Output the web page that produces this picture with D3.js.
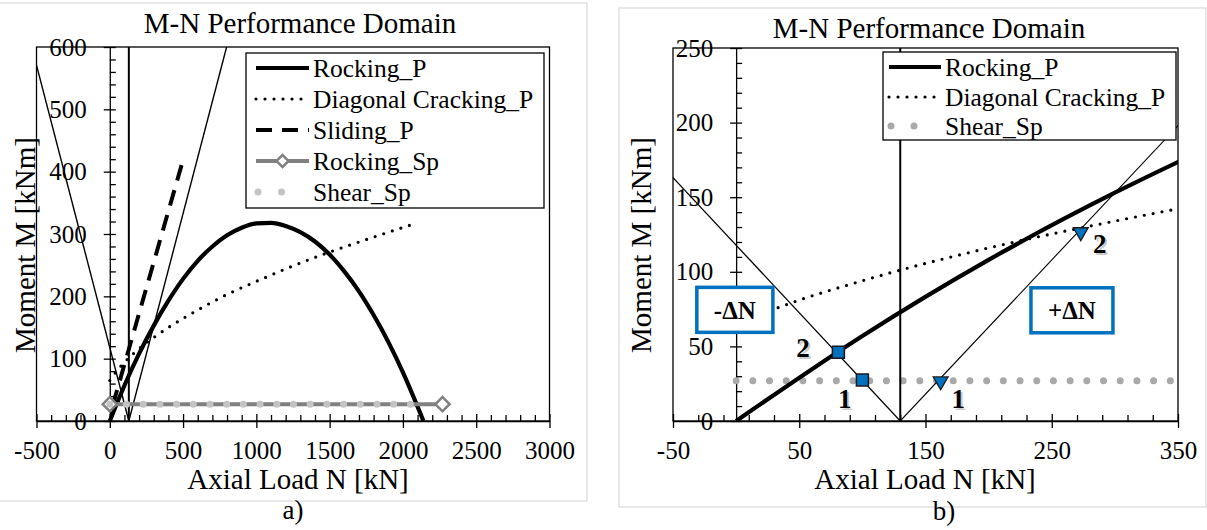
<!DOCTYPE html>
<html>
<head>
<meta charset="utf-8">
<script src="https://cdn.jsdelivr.net/npm/d3@7"></script>
<style>
body { margin: 0; background: #fff; }
svg text { font-family: "Liberation Serif", "Times New Roman", serif; fill: #000; }
</style>
</head>
<body>
<svg width="1207" height="530"></svg>
<script>
'use strict';

var svg = d3.select('svg');

// Rocking_P
var rockingN = [0, 100, 200, 300, 400, 500, 600, 700, 800, 900, 1000, 1100, 1200, 1300, 1400, 1500, 1600, 1700, 1800, 1900, 2000, 2100, 2140];
var rockingM = [0, 57, 108, 153, 193, 228, 257, 280, 298, 310, 317, 318, 313, 303, 288, 267, 240, 208, 170, 127, 78, 23, 0];

// Diagonal Cracking_P
var diagN = [0, 50, 100, 200, 300, 400, 600, 800, 1000, 1200, 1500, 1800, 2100];
var diagM = [65, 81, 94, 116, 134, 150, 178, 203, 224, 244, 271, 295, 318];

// Sliding_P
var slidingN = [20, 500];
var slidingM = [25, 419];

// thin construction lines
var descN = [-500, 130], descM = [571, 0];
var ascN = [130, 797], ascM = [0, 600];
var vertN = [130, 130], vertM = [0, 600];

// Rocking_Sp / Shear_Sp
var rockSpN = [0, 2270], rockSpM = [27, 27];
var shearN = [0, 2160], shearM = [27, 27];

// panel b markers and notes
var squareN = [81, 100], squareM = [46, 27.5];
var triN = [162, 273], triM = [28, 128];
var pointLabels = ['2', '1', '1', '2'];
var pointLabelN = [53, 86, 176, 288];
var pointLabelM = [49, 15, 15, 119];
var deltaLabels = ['-\u0394N', '+\u0394N'];
var deltaN = [-1, 266];
var deltaM = [74.5, 74.2];

// ticks
var xTicksA = [-500, 0, 500, 1000, 1500, 2000, 2500, 3000];
var yTicksA = [0, 100, 200, 300, 400, 500, 600];
var xTicksB = [-50, 50, 150, 250, 350];
var yTicksB = [0, 50, 100, 150, 200, 250];

var legendA = ['Rocking_P', 'Diagonal Cracking_P', 'Sliding_P', 'Rocking_Sp', 'Shear_Sp'];
var legendB = ['Rocking_P', 'Diagonal Cracking_P', 'Shear_Sp'];

var blue = '#0070c0';

function pts(ns, ms) {
  return ns.map(function (n, i) { return [n, ms[i]]; });
}

function plain(d) {
  return String(d);
}

var styles = {
  'Rocking_P': { stroke: '#000', width: 4.2 },
  'Diagonal Cracking_P': { stroke: '#000', width: 3.2, dash: '0 9', cap: 'round' },
  'Sliding_P': { stroke: '#000', width: 4, dash: '16 10' },
  'Rocking_Sp': { stroke: '#808080', width: 4 },
  'Shear_Sp': { stroke: '#c3c3c3', width: 7, dash: '0 16.7', cap: 'round' },
  'thin': { stroke: '#000', width: 1.4 },
  'vert': { stroke: '#000', width: 2 }
};

function applyStyle(sel, st) {
  sel.attr('fill', 'none').attr('stroke', st.stroke).attr('stroke-width', st.width)
    .attr('stroke-dasharray', st.dash || null).attr('stroke-linecap', st.cap || 'butt');
  return sel;
}

function makePanel(o) {
  var x = d3.scaleLinear().domain(o.xDomain).range([o.left, o.right]);
  var y = d3.scaleLinear().domain(o.yDomain).range([o.bottom, o.top]);
  var g = svg.append('g').attr('class', 'panel-' + o.id);

  g.append('rect')
    .attr('x', o.frame[0]).attr('y', o.frame[1])
    .attr('width', o.frame[2] - o.frame[0]).attr('height', o.frame[3] - o.frame[1])
    .attr('fill', 'none').attr('stroke', '#d9d9d9').attr('stroke-width', 1.2);

  g.append('clipPath').attr('id', 'clip-' + o.id).append('rect')
    .attr('x', o.left).attr('y', o.top)
    .attr('width', o.right - o.left).attr('height', o.bottom - o.top);

  g.append('rect')
    .attr('x', o.left).attr('y', o.top)
    .attr('width', o.right - o.left).attr('height', o.bottom - o.top)
    .attr('fill', 'none').attr('stroke', '#000').attr('stroke-width', 1.3);

  // minor ticks, pointing into the plot
  var xMinor = d3.range(o.xDomain[0], o.xDomain[1] + 1, o.xMinorStep).filter(function (v) {
    return o.xTicks.indexOf(v) < 0;
  });
  var yMinor = d3.range(o.yDomain[0], o.yDomain[1] + 1, o.yMinorStep).filter(function (v) {
    return o.yTicks.indexOf(v) < 0;
  });
  var xm = g.append('g').attr('transform', 'translate(0,' + y(0) + ')')
    .call(d3.axisTop(x).tickValues(xMinor).tickSize(6).tickFormat(''));
  xm.select('.domain').remove();
  var ym = g.append('g').attr('transform', 'translate(' + x(0) + ',0)')
    .call(d3.axisRight(y).tickValues(yMinor).tickSize(6).tickFormat(''));
  ym.select('.domain').remove();

  // major ticks cross the axis
  var xa = g.append('g').attr('transform', 'translate(0,' + y(0) + ')')
    .call(d3.axisBottom(x).tickValues(o.xTicks).tickFormat(plain)
      .tickSizeInner(7).tickSizeOuter(0).tickPadding(13));
  xa.selectAll('.tick line').attr('y1', -7);
  var ya = g.append('g').attr('transform', 'translate(' + x(0) + ',0)')
    .call(d3.axisLeft(y).tickValues(o.yTicks).tickFormat(plain)
      .tickSizeInner(6).tickSizeOuter(0).tickPadding(17));
  ya.selectAll('.tick line').attr('x1', 6);

  [xa, ya, xm, ym].forEach(function (a) {
    a.attr('font-size', 25).attr('font-family', null);
    a.selectAll('line, path').attr('stroke', '#000').attr('stroke-width', 1.3);
  });

  g.append('text').attr('x', o.title[0]).attr('y', o.title[1])
    .attr('text-anchor', 'middle').attr('font-size', 29).text('M-N Performance Domain');
  g.append('text').attr('x', o.xTitle[0]).attr('y', o.xTitle[1])
    .attr('text-anchor', 'middle').attr('font-size', 29).text('Axial Load N [kN]');
  g.append('text').attr('transform', 'translate(' + o.yTitle[0] + ',' + o.yTitle[1] + ') rotate(-90)')
    .attr('dy', '0.35em').attr('text-anchor', 'middle').attr('font-size', 29).text('Moment M [kNm]');
  g.append('text').attr('x', o.caption[0]).attr('y', o.caption[1])
    .attr('text-anchor', 'middle').attr('font-size', 27).text(o.label);

  var plot = g.append('g').attr('clip-path', 'url(#clip-' + o.id + ')');
  var line = d3.line().x(function (d) { return x(d[0]); }).y(function (d) { return y(d[1]); });
  var curve = d3.line().x(function (d) { return x(d[0]); }).y(function (d) { return y(d[1]); })
    .curve(d3.curveMonotoneX);

  return { g: g, plot: plot, x: x, y: y, line: line, curve: curve };
}

function drawLegend(g, box, items, rows, sample, shearColor) {
  g.append('rect').attr('x', box[0]).attr('y', box[1]).attr('width', box[2]).attr('height', box[3])
    .attr('fill', '#fff').attr('stroke', '#000').attr('stroke-width', 1.3);
  items.forEach(function (name, i) {
    var ry = rows[i];
    var st = Object.assign({}, styles[name]);
    var x0 = sample[0], x1 = sample[1];
    if (name === 'Shear_Sp') {
      st.stroke = shearColor;
      st.dash = '0 ' + ((x1 - x0 - 6) / 2);
      x0 += 2; x1 = x0 + (x1 - x0 - 6);
    }
    applyStyle(g.append('line').attr('x1', x0).attr('x2', x1).attr('y1', ry).attr('y2', ry), st);
    if (name === 'Rocking_Sp') {
      g.append('path').attr('d', d3.symbol(d3.symbolSquare, 72)())
        .attr('transform', 'translate(' + ((sample[0] + sample[1]) / 2) + ',' + ry + ') rotate(45)')
        .attr('fill', '#fff').attr('stroke', '#808080').attr('stroke-width', 2.5);
    }
    g.append('text').attr('x', sample[1] + 4).attr('y', ry + 9).attr('font-size', 25.5).text(name);
  });
}

// ---------- panel a ----------
var A = makePanel({
  id: 'a', frame: [-2, 3, 587, 501], left: 36.5, right: 549.5, top: 47, bottom: 421,
  xDomain: [-500, 3000], yDomain: [0, 600], xTicks: xTicksA, yTicks: yTicksA,
  xMinorStep: 100, yMinorStep: 20,
  title: [300, 33], xTitle: [298, 489], yTitle: [25, 245], caption: [293, 519], label: 'a)'
});

applyStyle(A.plot.append('path').attr('d', A.line(pts(descN, descM))), styles.thin);
applyStyle(A.plot.append('path').attr('d', A.line(pts(ascN, ascM))), styles.thin);
applyStyle(A.plot.append('path').attr('d', A.line(pts(vertN, vertM))), styles.vert);
applyStyle(A.plot.append('path').attr('d', A.line(pts(slidingN, slidingM))), styles.Sliding_P);
applyStyle(A.plot.append('path').attr('d', A.curve(pts(diagN, diagM))), styles['Diagonal Cracking_P']);
applyStyle(A.plot.append('path').attr('d', A.curve(pts(rockingN, rockingM))), styles.Rocking_P);
applyStyle(A.g.append('path').attr('d', A.line(pts(rockSpN, rockSpM))), styles.Rocking_Sp);
A.g.selectAll('.sp-marker').data(pts(rockSpN, rockSpM)).enter().append('path')
  .attr('class', 'sp-marker')
  .attr('d', d3.symbol(d3.symbolSquare, 100)())
  .attr('transform', function (d) { return 'translate(' + A.x(d[0]) + ',' + A.y(d[1]) + ') rotate(45)'; })
  .attr('fill', '#fff').attr('stroke', '#808080').attr('stroke-width', 2.5);
applyStyle(A.g.append('path').attr('d', A.line(pts(shearN, shearM))), styles.Shear_Sp);

drawLegend(A.g, [246, 53, 298, 155], legendA, [68, 99, 130, 161, 192], [256, 309], '#c3c3c3');

// ---------- panel b ----------
var B = makePanel({
  id: 'b', frame: [619, 8, 1206, 507], left: 673, right: 1178, top: 48, bottom: 421,
  xDomain: [-50, 350], yDomain: [0, 250], xTicks: xTicksB, yTicks: yTicksB,
  xMinorStep: 20, yMinorStep: 10,
  title: [929, 38], xTitle: [925, 489], yTitle: [641, 245], caption: [944, 520], label: 'b)'
});

var shearB = Object.assign({}, styles.Shear_Sp, { stroke: '#a9a9a9' });
applyStyle(B.plot.append('path').attr('d', B.line(pts(shearN, shearM))), shearB);
applyStyle(B.plot.append('path').attr('d', B.line(pts(descN, descM))), { stroke: '#000', width: 1.3 });
applyStyle(B.plot.append('path').attr('d', B.line(pts(ascN, ascM))), { stroke: '#000', width: 1.1 });
applyStyle(B.plot.append('path').attr('d', B.line(pts(vertN, vertM))), styles.vert);
applyStyle(B.plot.append('path').attr('d', B.curve(pts(diagN, diagM))), styles['Diagonal Cracking_P']);
applyStyle(B.plot.append('path').attr('d', B.curve(pts(rockingN, rockingM))), styles.Rocking_P);

B.g.selectAll('.sq').data(pts(squareN, squareM)).enter().append('path')
  .attr('class', 'sq')
  .attr('d', d3.symbol(d3.symbolSquare, 144)())
  .attr('transform', function (d) { return 'translate(' + B.x(d[0]) + ',' + B.y(d[1]) + ')'; })
  .attr('fill', blue).attr('stroke', '#1a1a1a').attr('stroke-width', 1.5);
B.g.selectAll('.tri').data(pts(triN, triM)).enter().append('path')
  .attr('class', 'tri')
  .attr('d', d3.symbol(d3.symbolTriangle, 95)())
  .attr('transform', function (d) { return 'translate(' + B.x(d[0]) + ',' + (B.y(d[1]) + 2) + ') rotate(180)'; })
  .attr('fill', blue).attr('stroke', '#1a1a1a').attr('stroke-width', 1.3);

pointLabels.forEach(function (t, i) {
  var px = B.x(pointLabelN[i]), py = B.y(pointLabelM[i]);
  B.g.append('text').attr('x', px + 2).attr('y', py + 2).attr('dy', '0.35em')
    .attr('text-anchor', 'middle').attr('font-size', 27).attr('font-weight', 'bold')
    .style('fill', '#999').attr('opacity', 0.5).text(t);
  B.g.append('text').attr('x', px).attr('y', py).attr('dy', '0.35em')
    .attr('text-anchor', 'middle').attr('font-size', 27).attr('font-weight', 'bold').text(t);
});

deltaLabels.forEach(function (t, i) {
  var cx = B.x(deltaN[i]), cy = B.y(deltaM[i]);
  var box = B.g.append('rect').attr('fill', '#fff').attr('stroke', blue).attr('stroke-width', 3.5);
  var txt = B.g.append('text').attr('x', cx).attr('y', cy).attr('dy', '0.35em')
    .attr('text-anchor', 'middle').attr('font-size', 25).attr('font-weight', 'bold').text(t);
  var w = txt.node().getComputedTextLength() + 34;
  box.attr('x', cx - w / 2).attr('y', cy - 22.5).attr('width', w).attr('height', 45);
});

drawLegend(B.g, [883, 52, 293, 88], legendB, [67, 97, 126], [889, 941], '#a9a9a9');
</script>
</body>
</html>
